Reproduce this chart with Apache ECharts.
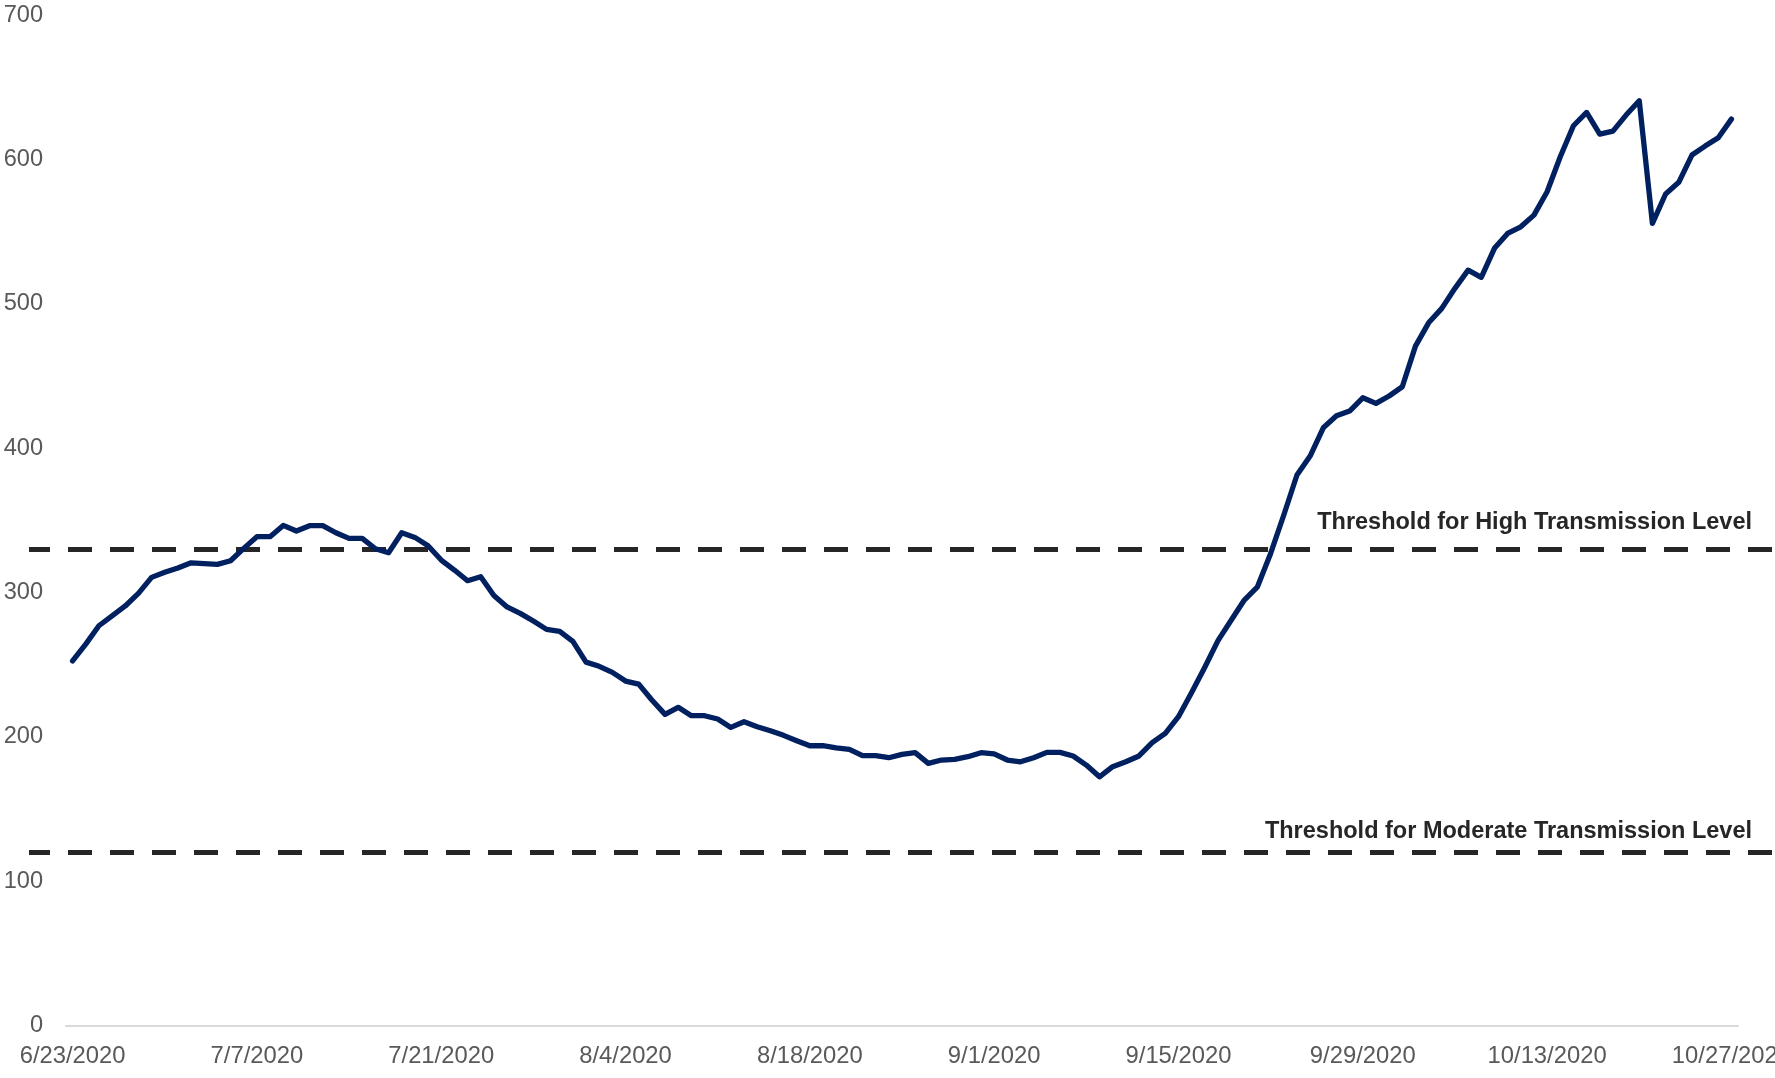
<!DOCTYPE html>
<html>
<head>
<meta charset="utf-8">
<script src="https://cdn.jsdelivr.net/npm/echarts@6/dist/echarts.min.js"></script>
<style>
html,body{margin:0;padding:0;background:#fff;}
#chart{width:1775px;height:1078px;}
</style>
</head>
<body>
<div id="chart"></div>
<script>
// ---- data ----
const startDate = [2020, 6, 23];   // 6/23/2020, daily values through 10/27/2020
const dayCount = 127;
const values = [
  252.6, 264.3, 277.0, 283.9, 290.7, 299.4, 310.5, 314.0, 317.0, 320.6,
  320.1, 319.5, 322.0, 330.6, 338.7, 338.7, 346.5, 342.6, 346.3, 346.3,
  341.4, 337.5, 337.5, 330.3, 327.6, 341.4, 338.2, 332.4, 322.5, 315.6,
  308.2, 311.0, 298.0, 290.0, 285.6, 280.3, 274.5, 273.1, 266.2, 251.8,
  248.9, 244.7, 238.7, 236.6, 225.6, 215.6, 220.5, 214.7, 214.7, 212.4,
  206.6, 210.5, 207.1, 204.3, 201.1, 197.4, 193.9, 193.9, 192.5, 191.4,
  187.0, 187.0, 185.6, 187.9, 189.1, 181.7, 184.0, 184.5, 186.3, 189.1,
  188.2, 184.0, 182.8, 185.6, 189.3, 189.3, 186.8, 180.5, 172.4, 179.4,
  182.8, 186.8, 196.0, 202.5, 214.0, 230.7, 248.3, 266.7, 280.8, 294.8,
  304.0, 327.1, 353.7, 381.4, 394.5, 414.1, 422.4, 425.7, 434.9, 431.0,
  436.1, 442.5, 470.7, 486.8, 496.8, 510.7, 523.3, 518.3, 538.4, 548.7,
  553.3, 561.4, 577.6, 601.8, 623.3, 632.5, 617.5, 619.6, 630.7, 640.6,
  555.7, 576.0, 584.1, 603.0, 609.2, 615.0, 627.9
];
const thresholdValues = [330, 120];
const thresholdNames = ['Threshold for High Transmission Level', 'Threshold for Moderate Transmission Level'];
const yTicks = [0, 100, 200, 300, 400, 500, 600, 700];

// categories: one per day
const categories = [];
for (let i = 0; i < dayCount; i++) {
  const d = new Date(startDate[0], startDate[1] - 1, startDate[2] + i);
  categories.push((d.getMonth() + 1) + '/' + d.getDate() + '/' + d.getFullYear());
}

const FONT = '"Liberation Sans", Arial, sans-serif';
const labelDist = [[23, 15], [23, 9]];

const chart = echarts.init(document.getElementById('chart'), null, {renderer: 'canvas'});
chart.setOption({
  animation: false,
  backgroundColor: '#ffffff',
  grid: [
    {left: 66, right: 37, top: 15, bottom: 52.3, containLabel: false, outerBoundsMode: 'none'},
    {left: 29, right: 0, top: 15, bottom: 52.3, containLabel: false, outerBoundsMode: 'none'}
  ],
  xAxis: [
    {
      type: 'category', gridIndex: 0, data: categories, boundaryGap: true,
      axisLine: {lineStyle: {color: '#d9d9d9', width: 2}},
      axisTick: {interval: 13, length: 7, lineStyle: {color: '#d9d9d9', width: 2}},
      axisLabel: {interval: 13, color: '#595959', fontSize: 23.8, fontFamily: FONT, margin: 19, hideOverlap: false},
      splitLine: {show: false}
    },
    {type: 'value', gridIndex: 1, min: 0, max: 1, show: false}
  ],
  yAxis: [
    {
      type: 'value', gridIndex: 0, min: yTicks[0], max: yTicks[yTicks.length - 1], interval: 100,
      axisLine: {show: false}, axisTick: {show: false}, splitLine: {show: false},
      axisLabel: {color: '#595959', fontSize: 23.6, fontFamily: FONT, margin: 23}
    },
    {type: 'value', gridIndex: 1, min: yTicks[0], max: yTicks[yTicks.length - 1], show: false}
  ],
  series: [
    {
      type: 'line', xAxisIndex: 0, yAxisIndex: 0, data: values,
      symbol: 'none', z: 5,
      lineStyle: {color: '#002060', width: 5.3, cap: 'round', join: 'round'}
    }
  ].concat(thresholdValues.map((v, i) => ({
    type: 'line', xAxisIndex: 1, yAxisIndex: 1, data: [],
    z: 3,
    markLine: {
      silent: true, symbol: 'none', animation: false,
      lineStyle: {color: '#262626', width: 5, type: [24, 18], dashOffset: 3},
      label: {
        show: true, position: 'insideEndTop', distance: labelDist[i],
        formatter: thresholdNames[i],
        color: '#262626', fontSize: 23.5, fontWeight: 'bold', fontFamily: FONT
      },
      data: [{yAxis: v}]
    }
  })))
});
</script>
</body>
</html>
